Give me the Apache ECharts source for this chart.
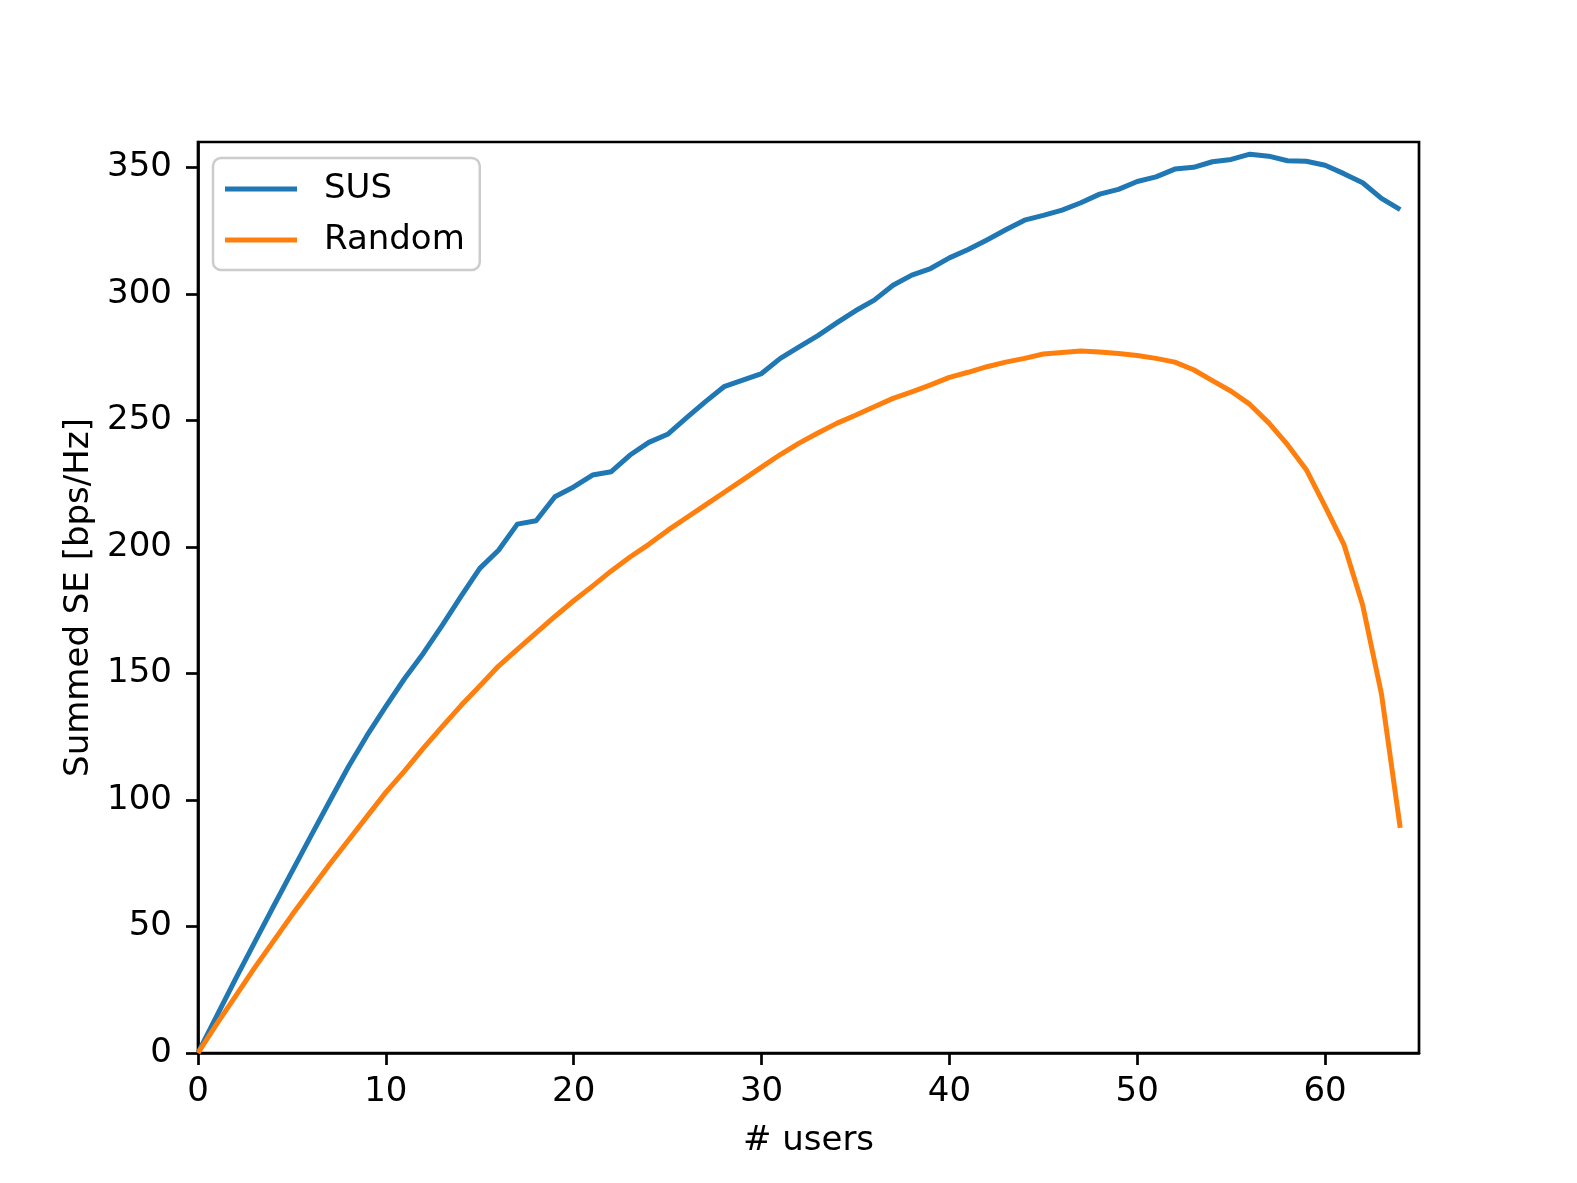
<!DOCTYPE html>
<html>
<head>
<meta charset="utf-8">
<script src="https://cdn.jsdelivr.net/npm/echarts@6/dist/echarts.min.js"></script>
<style>
html,body{margin:0;padding:0;background:#fff;}
#chart{width:1577px;height:1183px;}
</style>
</head>
<body>
<div id="chart"></div>
<script>
const users = [0,1,2,3,4,5,6,7,8,9,10,11,12,13,14,15,16,17,18,19,20,21,22,23,24,25,26,27,28,29,30,31,32,33,34,35,36,37,38,39,40,41,42,43,44,45,46,47,48,49,50,51,52,53,54,55,56,57,58,59,60,61,62,63,64];
const susSE = [0,14.7,29.3,43.5,57.7,71.7,85.6,99.4,113,125.5,137,148,158,169,180.4,191.5,198.7,209,210.3,219.8,223.7,228.4,229.7,236.3,241.3,244.5,251,257.3,263.3,265.9,268.5,274.5,279,283.5,288.5,293.3,297.5,303.4,307.4,310,314.2,317.5,321.3,325.3,329.1,331,333.1,336,339.4,341.3,344.4,346.2,349.3,350,352.2,353.1,355.2,354.4,352.6,352.4,350.8,347.5,343.9,337.7,333.3];
const randomSE = [0,11.5,22.5,33.5,44,54.5,64.5,74.5,84,93.5,103,111.5,120.5,129,137.3,145,152.9,159.5,166,172.5,178.7,184.5,190.5,196,201,206.5,211.5,216.5,221.5,226.5,231.5,236.5,241,245,248.8,252,255.4,258.7,261.3,264,267,269,271.2,273,274.5,276.2,276.8,277.4,277,276.4,275.6,274.5,273,270,265.7,261.5,256.3,249,240.4,230.5,216,201,177,142,89];
const xTicks = [0,10,20,30,40,50,60];
const yTicks = [0,50,100,150,200,250,300,350];
const seriesNames = ['SUS','Random'];
const xName = '# users';
const yName = 'Summed SE [bps/Hz]';

const FONT = 'DejaVu Sans';
const chart = echarts.init(document.getElementById('chart'), null, {renderer:'canvas'});
const pair = (ys) => users.map((u,i) => [u, ys[i]]);
chart.setOption({
  animation: false,
  backgroundColor: '#ffffff',
  grid: {left:198, top:142, width:1221, height:911, show:true, borderColor:'#000', borderWidth:2.7, backgroundColor:'transparent'},
  legend: {
    left: 213, top: 158,
    orient: 'vertical',
    padding: [14, 15, 13, 12],
    icon: 'rect',
    itemWidth: 72, itemHeight: 5, itemGap: 17,
    backgroundColor: '#ffffff',
    borderColor: '#cccccc', borderWidth: 2.5, borderRadius: 8,
    textStyle: {fontFamily: FONT, fontSize: 34, color: '#000', padding:[0,0,0,22], lineHeight: 34},
    data: seriesNames
  },
  xAxis: {
    type: 'value', min: 0, max: 65, interval: 10,
    name: xName, nameLocation: 'middle', nameGap: 71,
    nameTextStyle: {fontFamily: FONT, fontSize: 34, color:'#000'},
    axisLine: {show:true, onZero:false, lineStyle:{color:'#000', width:2.7}},
    axisTick: {show:true, length:12, lineStyle:{color:'#000', width:2.7}, customValues: xTicks},
    axisLabel: {fontFamily: FONT, fontSize: 34, color:'#000', margin: 22, customValues: xTicks},
    splitLine: {show:false}
  },
  yAxis: {
    type: 'value', min: 0, max: 360, interval: 50,
    name: yName, nameLocation: 'middle', nameGap: 100, nameRotate: 90,
    nameTextStyle: {fontFamily: FONT, fontSize: 34, color:'#000'},
    axisLine: {show:true, onZero:false, lineStyle:{color:'#000', width:2.7}},
    axisTick: {show:true, length:12, lineStyle:{color:'#000', width:2.7}, customValues: yTicks},
    axisLabel: {fontFamily: FONT, fontSize: 34, color:'#000', margin: 26, padding:[5,0,0,0], customValues: yTicks},
    splitLine: {show:false}
  },
  series: [
    {name: seriesNames[0], type:'line', data: pair(susSE), showSymbol:false, symbol:'none',
     lineStyle:{color:'#1f77b4', width:5, join:'round'}, itemStyle:{color:'#1f77b4'}},
    {name: seriesNames[1], type:'line', data: pair(randomSE), showSymbol:false, symbol:'none',
     lineStyle:{color:'#ff7f0e', width:5, join:'round'}, itemStyle:{color:'#ff7f0e'}}
  ]
});
</script>
</body>
</html>
